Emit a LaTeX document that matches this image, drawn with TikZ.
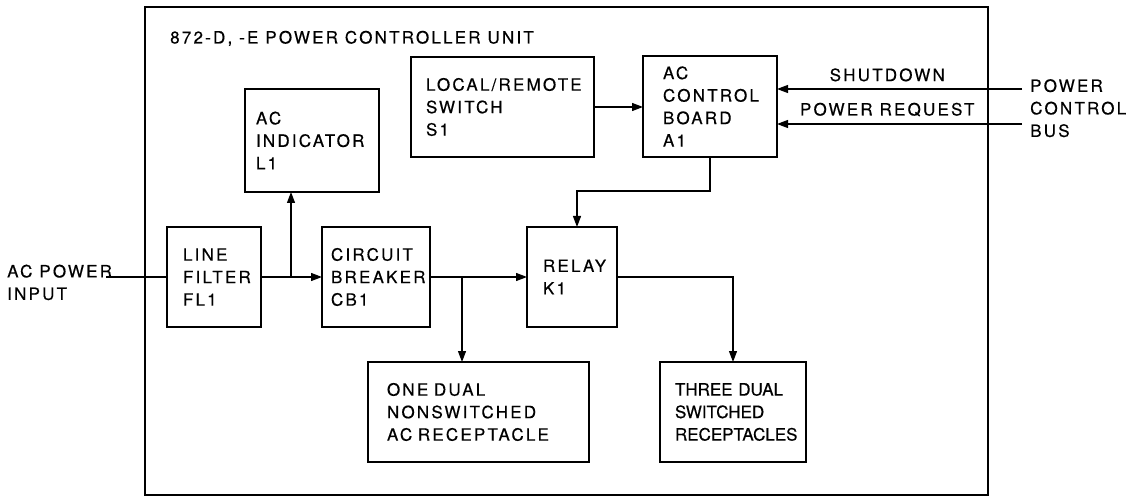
\documentclass[tikz,border=0pt]{standalone}
\usepackage{fontspec}
\setmainfont{TeX Gyre Heros}[LetterSpace=13, FakeBold=0.5]
\usetikzlibrary{arrows.meta, positioning}
\hfuzz=20pt

\begin{document}
\begin{tikzpicture}[
  x=1pt, y=-1pt,
  % ── Style definitions ──
  blk/.style={
    rectangle, draw, line width=1.9pt, outer sep=0pt,
    minimum height=100pt, inner ysep=0pt,
    align=left, font=\fontsize{17}{22.5}\selectfont
  },
  tight/.style={font=\fontsize{17}{22.5}\selectfont\addfontfeature{LetterSpace=0}},
  lbl/.style={inner sep=0pt, align=left, font=\fontsize{17}{22.5}\selectfont},
  wire/.style={line width=1.2pt},
  arr/.style={wire, -{Triangle[length=11pt, width=8pt]}},
  frame/.style={line width=2.4pt}
]
\useasboundingbox (0,0) rectangle (1135,497);

% ─────────── Unit outline and title ─────────────────────────
\draw[frame] (145,7) rectangle (988,495);
\node[lbl, anchor=base west] (title) at (170,43.5) {872-D, -E POWER CONTROLLER UNIT};

% ─────────── Power path row ─────────────────────────────────
\node[blk, anchor=north west, text width=62pt, inner xsep=16pt] (lf) at (167,227) {LINE\\FILTER\\FL1};
\node[blk, right=61pt of lf, text width=90pt, inner xsep=9pt]  (cb)  {CIRCUIT\\BREAKER\\CB1};
\node[blk, right=97pt of cb, text width=58pt, inner xsep=16pt] (rly) {RELAY\\K1};

% ─────────── Upper row ──────────────────────────────────────
\node[blk, anchor=north west, minimum height=103pt, text width=112pt, inner xsep=11pt] (ind) at (245,89) {AC\\INDICATOR\\L1};
\node[blk, anchor=north west, text width=153pt, inner xsep=15pt] (sw)  at (411,57) {LOCAL/REMOTE\\SWITCH\\S1};
\node[blk, anchor=north west, minimum height=101pt, text width=94pt, inner xsep=20pt] (acb) at (643,56) {AC\\CONTROL\\BOARD\\A1};

% ─────────── Receptacles ────────────────────────────────────
\node[blk, anchor=north west, text width=183pt, inner xsep=19pt] (nsw) at (368,362) {ONE DUAL\\NONSWITCHED\\AC RECEPTACLE};
\node[blk, tight, anchor=north west, text width=116pt, inner xsep=15pt] (swr) at (660,362) {THREE DUAL\\SWITCHED\\RECEPTACLES};

% ─────────── Outside labels ─────────────────────────────────
\node[lbl, anchor=north west] (acin) at (7,264.5) {AC POWER\\INPUT};
\node[lbl, anchor=north west] (pcb)  at (1030,79) {POWER\\CONTROL\\BUS};
\coordinate (sdin) at (1022,89);
\coordinate (prin) at (1022,124);

% ─────────── Branch points ──────────────────────────────────
\coordinate (j1) at (lf.east -| 291,0);
\coordinate (j2) at (cb.east -| 462,0);

% ─────────── Connectors ─────────────────────────────────────
\draw[wire] ([xshift=-6pt]acin.east |- lf.west) -- (lf.west);
\draw[arr] (lf) -- (cb);
\draw[arr] (j1) -- (j1 |- ind.south);
\draw[arr] (cb) -- (rly);
\draw[arr] (j2) -- (j2 |- nsw.north);
\draw[arr] (rly.east) -| (swr.north);
\draw[arr] (sw.east) -- (sw.east -| acb.west);
\draw[arr] (acb.south) -- ++(0,34) -| ([xshift=5pt]rly.north);

% bus lines into the control board
\draw[arr] (sdin) -- (sdin -| acb.east)
    node[lbl, pos=0.55, above=7pt] {SHUTDOWN};
\draw[arr] (prin) -- (prin -| acb.east)
    node[lbl, pos=0.55, above=7pt] {POWER REQUEST};
\end{tikzpicture}
\end{document}
